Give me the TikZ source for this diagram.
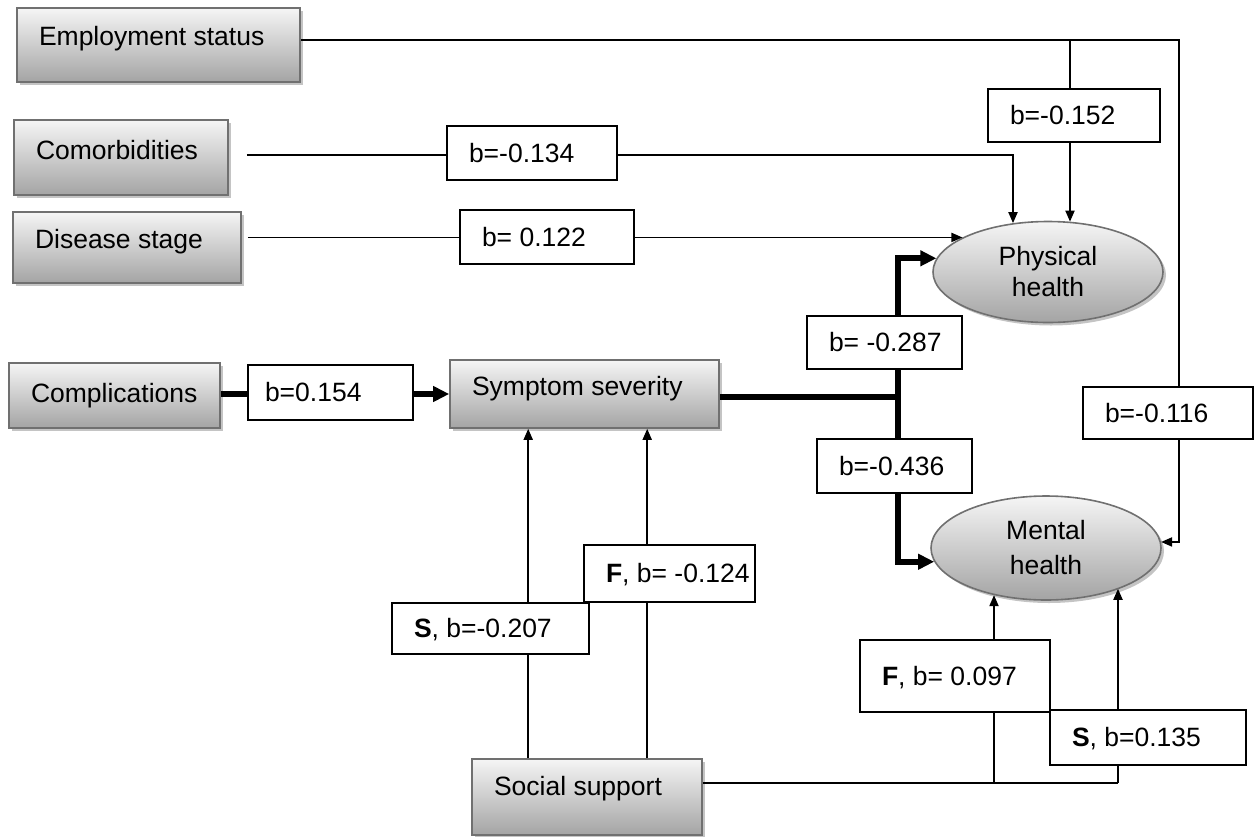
\documentclass[tikz,border=0pt]{standalone}
\usepackage{fontspec}
\setmainfont{Liberation Sans}
\usetikzlibrary{shapes.geometric,shadows,arrows.meta,calc}

\definecolor{boxtop}{HTML}{F5F5F5}
\definecolor{boxbot}{HTML}{A4A4A4}
\definecolor{boxline}{HTML}{707070}
\definecolor{shadowgray}{HTML}{C4C4C4}

% left-aligned text in a slot of fixed width (never wraps)
\newcommand\slotl[2]{\makebox[#1][l]{#2}}

\begin{document}
\begin{tikzpicture}[x=1pt,y=-1pt,
  font=\fontsize{26.5}{31}\selectfont,
  gshadow/.style={drop shadow={shadow xshift=3pt,shadow yshift=-3pt,fill=shadowgray,opacity=1}},
  gbox/.style={draw=boxline, line width=1.6pt, top color=boxtop, bottom color=boxbot,
    gshadow, inner xsep=22pt, inner ysep=0pt, text height=18pt},
  goval/.style={ellipse, draw=boxline, line width=1.6pt, top color=boxtop, bottom color=boxbot,
    gshadow, inner sep=0pt, align=center},
  lbl/.style={draw, fill=white, line width=1.6pt, inner xsep=22pt, inner ysep=0pt,
    text height=18pt, text depth=0pt},
  link/.style={line width=1.8pt, -{Triangle[length=11pt,width=9pt]}},
  plain/.style={line width=1.8pt},
  heavy/.style={line width=6pt},
  heavyarrow/.style={line width=6pt, -{Triangle[length=16pt,width=15pt]}},
]
\useasboundingbox (0,0) rectangle (1259,836);

% predictor and outcome boxes
\node[gbox, minimum height=74pt, text depth=18pt] (emp) at (158.5,45) {\slotl{239pt}{Employment status}};
\node[gbox, minimum height=75pt, text depth=15pt] (com) at (121,157.5) {\slotl{170pt}{Comorbidities}};
\node[gbox, minimum height=71pt, text depth=17pt] (dis) at (127,247.5) {\slotl{184pt}{Disease stage}};
\node[gbox, minimum height=65pt, text depth=5pt] (cpl) at (114.5,395.5) {\slotl{167pt}{Complications}};
\node[gbox, minimum height=68pt, text depth=16pt] (sym) at (584.5,394) {\slotl{225pt}{Symptom severity}};
\node[gbox, minimum height=76pt, text depth=22pt] (soc) at (587,797) {\slotl{186pt}{Social support}};

\node[goval, minimum width=230pt, minimum height=101pt] (ph) at (1048,272) {Physical\\health};
\node[goval, minimum width=230pt, minimum height=104pt] (mh) at (1046,548) {Mental\\[4pt]health};

% bends and branch points
\coordinate (ec) at (1179,40);
\coordinate (eb) at (1070,40);
\coordinate (cc) at (1013,155);
\coordinate (jn) at (898,397);
\coordinate (sa) at ($(soc.north west)+(57,0)$);
\coordinate (sb) at ($(soc.north west)+(176,0)$);
\coordinate (sm) at (994,783);
\coordinate (sr) at (1118,783);

% paths
\draw[link] (emp.east |- ec) -- (ec) |- (mh.3);
\draw[link] (eb) -- (eb |- ph.66);
\draw[link] ($(com.east |- cc)+(18,0)$) -- (cc) -- (cc |- ph.126);
\draw[link] ($(dis.east |- ph.158)+(6,0)$) -- (ph.158);
\draw[heavyarrow] (cpl.east |- sym.west) -- (sym.west);
\draw[heavy] (sym.east |- jn) -- (jn);
\draw[heavyarrow] (jn) |- (ph.173);
\draw[heavyarrow] (jn) |- (mh.187);
\draw[link] (sa) -- (sa |- sym.south);
\draw[link] (sb) -- (sb |- sym.south);
\draw[plain] (soc.east |- sr) -- (sr);
\draw[link] (sm) -- (sm |- mh.222);
\draw[link] (sr) -- (sr |- mh.331);

% coefficients
\node[lbl, minimum height=54pt] (l134) at (532,153) {\slotl{126pt}{b=-0.134}};
\node[lbl, minimum height=54pt] (l122) at (547,237) {\slotl{130pt}{b= 0.122}};
\node[lbl, minimum height=53pt] (l152) at (1074,115.5) {\slotl{128pt}{b=-0.152}};
\node[lbl, minimum height=53pt] (l287) at (884.5,342.5) {\slotl{111pt}{b= -0.287}};
\node[lbl, minimum height=54pt] (l436) at (894.5,466) {\slotl{111pt}{b=-0.436}};
\node[lbl, inner xsep=17pt, minimum height=55pt] (l154) at (330.5,392.5) {\slotl{131pt}{b=0.154}};
\node[lbl, minimum height=52pt] (l116) at (1168,413) {\slotl{126pt}{b=-0.116}};
\node[lbl, minimum height=57pt] (lf124) at (669.5,573.5) {\slotl{127pt}{\textbf{F}, b= -0.124}};
\node[lbl, minimum height=51pt] (ls207) at (490.5,628.5) {\slotl{153pt}{\textbf{S}, b=-0.207}};
\node[lbl, minimum height=72pt] (lf097) at (955,676) {\slotl{146pt}{\textbf{F}, b= 0.097}};
\node[lbl, minimum height=55pt] (ls135) at (1148,737.5) {\slotl{152pt}{\textbf{S}, b=0.135}};
\end{tikzpicture}
\end{document}
